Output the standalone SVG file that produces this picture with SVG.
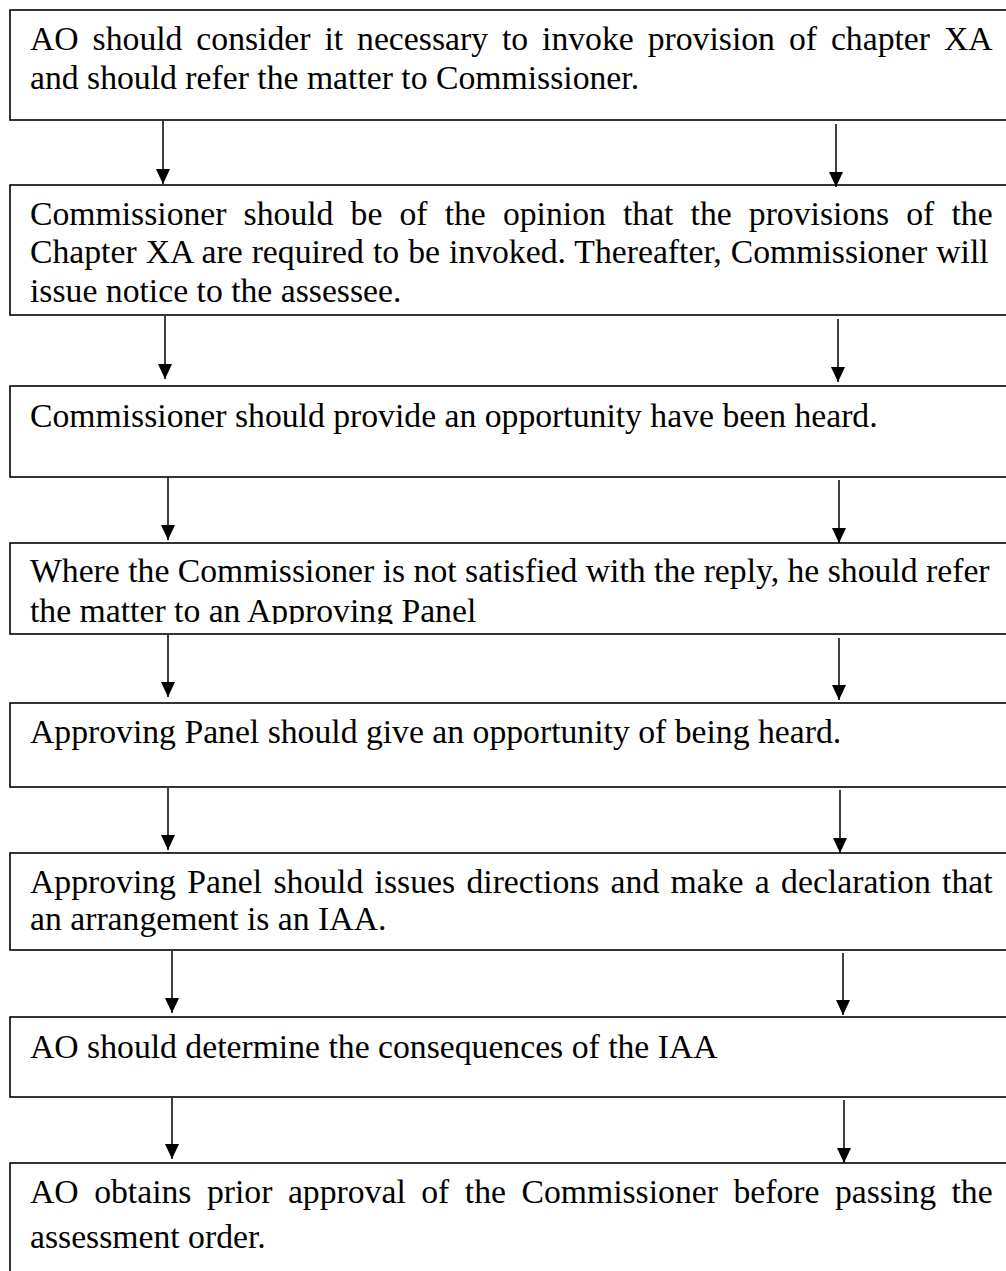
<svg xmlns="http://www.w3.org/2000/svg" width="1006" height="1271" viewBox="0 0 1006 1271">
<style>
.box{fill:#fff;stroke:#000;stroke-width:1.6}
.t{font-family:"Liberation Serif","Times New Roman",serif;font-size:33.7px;fill:#000}
.c{stroke:#000;stroke-width:1.5;fill:none}
</style>
<defs>
<marker id="ah" markerUnits="userSpaceOnUse" markerWidth="15" markerHeight="14" viewBox="0 0 15 14" refX="15" refY="7" orient="auto">
<path d="M0,0 L15,7 L0,14 z" fill="#000"/>
</marker>
<clipPath id="clip4"><rect x="0" y="543" width="1006" height="81"/></clipPath>
</defs>
<rect width="1006" height="1271" fill="#fff"/>

<g id="n1">
<rect class="box" x="10" y="10" width="1010" height="110"/>
<text class="t" x="30" y="50" word-spacing="5.51">AO should consider it necessary to invoke provision of chapter XA</text>
<text class="t" x="30" y="89">and should refer the matter to Commissioner.</text>
</g>

<g id="n2">
<rect class="box" x="10" y="185" width="1010" height="130"/>
<text class="t" x="30" y="225" word-spacing="8.68">Commissioner should be of the opinion that the provisions of the</text>
<text class="t" x="30" y="263" word-spacing="0.61">Chapter XA are required to be invoked. Thereafter, Commissioner will</text>
<text class="t" x="30" y="302">issue notice to the assessee.</text>
</g>

<g id="n3">
<rect class="box" x="10" y="386" width="1010" height="91"/>
<text class="t" x="30" y="427">Commissioner should provide an opportunity have been heard.</text>
</g>

<g id="n4">
<rect class="box" x="10" y="543" width="1010" height="91"/>
<g clip-path="url(#clip4)">
<text class="t" x="30" y="582">Where the Commissioner is not satisfied with the reply, he should refer</text>
<text class="t" x="30" y="621.5">the matter to an Approving Panel</text>
</g>
</g>

<g id="n5">
<rect class="box" x="10" y="703" width="1010" height="84"/>
<text class="t" x="30" y="743">Approving Panel should give an opportunity of being heard.</text>
</g>

<g id="n6">
<rect class="box" x="10" y="853" width="1010" height="97"/>
<text class="t" x="30" y="893" word-spacing="2.9">Approving Panel should issues directions and make a declaration that</text>
<text class="t" x="30" y="930">an arrangement is an IAA.</text>
</g>

<g id="n7">
<rect class="box" x="10" y="1017" width="1010" height="80"/>
<text class="t" x="30" y="1058">AO should determine the consequences of the IAA</text>
</g>

<g id="n8">
<rect class="box" x="10" y="1163" width="1010" height="130"/>
<text class="t" x="30" y="1203" word-spacing="7.06">AO obtains prior approval of the Commissioner before passing the</text>
<text class="t" x="30" y="1248">assessment order.</text>
</g>

<g id="connectors">
<line class="c" x1="163" y1="121" x2="163" y2="184" marker-end="url(#ah)"/>
<line class="c" x1="836" y1="124" x2="836" y2="187" marker-end="url(#ah)"/>
<line class="c" x1="165" y1="316" x2="165" y2="379" marker-end="url(#ah)"/>
<line class="c" x1="838" y1="319" x2="838" y2="382" marker-end="url(#ah)"/>
<line class="c" x1="168" y1="478" x2="168" y2="540" marker-end="url(#ah)"/>
<line class="c" x1="839" y1="480" x2="839" y2="543" marker-end="url(#ah)"/>
<line class="c" x1="168" y1="635" x2="168" y2="697" marker-end="url(#ah)"/>
<line class="c" x1="839" y1="638" x2="839" y2="700" marker-end="url(#ah)"/>
<line class="c" x1="168" y1="788" x2="168" y2="850" marker-end="url(#ah)"/>
<line class="c" x1="840" y1="790" x2="840" y2="853" marker-end="url(#ah)"/>
<line class="c" x1="172" y1="951" x2="172" y2="1013" marker-end="url(#ah)"/>
<line class="c" x1="843" y1="953" x2="843" y2="1015" marker-end="url(#ah)"/>
<line class="c" x1="172" y1="1098" x2="172" y2="1159" marker-end="url(#ah)"/>
<line class="c" x1="844" y1="1100" x2="844" y2="1163" marker-end="url(#ah)"/>
</g>
</svg>
